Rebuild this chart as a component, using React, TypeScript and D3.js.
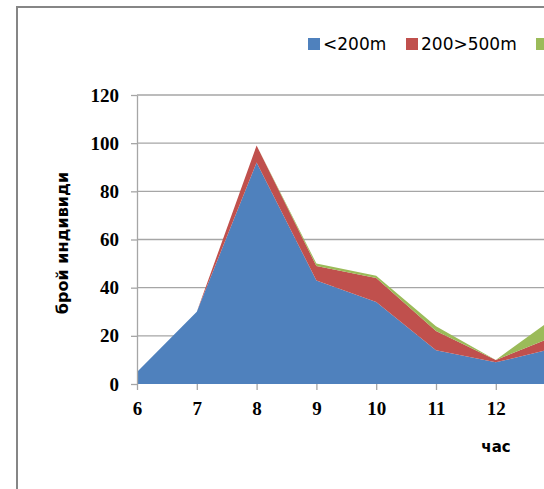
import React, { useEffect, useRef } from 'react';
import * as d3 from 'd3';

const hours = ['6', '7', '8', '9', '10', '11', '12', '13'];
const seriesNames = ['<200m', '200>500m', '>500m'];
const near = [5, 30, 92, 43, 34, 14, 9, 15];
const mid = [0, 0, 7, 6, 10, 8, 1, 5];
const far = [0, 0, 0, 1, 1, 2, 0, 8];
const yTicks = [0, 20, 40, 60, 80, 100, 120];
const xTickLabels = ['6', '7', '8', '9', '10', '11', '12'];
const COLORS = ['#4f81bd', '#c0504d', '#9bbb59'];

export default function App() {
  const svgRef = useRef<SVGSVGElement>(null);

  useEffect(() => {
    if (!svgRef.current) return;
    const svg = d3.select(svgRef.current);
    svg.selectAll('*').remove();

    const rows = hours.map((h, i) => ({ hour: h, s0: near[i], s1: mid[i], s2: far[i] }));
    const stacked = d3.stack<any>().keys(['s0', 's1', 's2'])(rows);

    const x = d3.scalePoint().domain(hours).range([137, 137 + 7 * 59.8]);
    const y = d3.scaleLinear().domain([0, 120]).range([384, 95]);
    const plotRight = 700;

    // chart frame
    svg.append('rect')
      .attr('x', 17).attr('y', 7)
      .attr('width', 800).attr('height', 600)
      .attr('fill', '#fff')
      .attr('stroke', '#868686')
      .attr('stroke-width', 2);

    // grid lines
    svg.append('g')
      .selectAll('line')
      .data(yTicks.filter(d => d > 0))
      .enter()
      .append('line')
      .attr('x1', x('6')!).attr('x2', plotRight)
      .attr('y1', d => y(d)).attr('y2', d => y(d))
      .attr('stroke', '#a6a6a6')
      .attr('stroke-width', 1.3);

    // areas
    const area = d3.area<any>()
      .x(d => x(d.data.hour)!)
      .y0(d => y(d[0]))
      .y1(d => y(d[1]));

    svg.append('g')
      .selectAll('path')
      .data(stacked)
      .enter()
      .append('path')
      .attr('d', d => area(d as any))
      .attr('fill', (d, i) => COLORS[i]);

    const tickFont = (sel: any) => sel
      .style('font-family', "'Liberation Serif', serif")
      .style('font-size', '19px')
      .style('font-weight', 'bold')
      .style('fill', '#000');

    // y axis
    const yAxis = svg.append('g')
      .attr('transform', `translate(${x('6')},0)`)
      .call(d3.axisLeft(y).tickValues(yTicks).tickSize(6).tickSizeOuter(0).tickPadding(12));
    yAxis.select('.domain').attr('stroke', '#a6a6a6').attr('stroke-width', 1.3);
    yAxis.selectAll('.tick line').attr('stroke', '#a6a6a6').attr('stroke-width', 1.3);
    tickFont(yAxis.selectAll('text'));

    // x axis
    const xAxis = svg.append('g')
      .attr('transform', `translate(0,${y(0)})`)
      .call(d3.axisBottom(x).tickValues(xTickLabels).tickSize(6).tickSizeOuter(0).tickPadding(12));
    xAxis.select('.domain').remove();
    xAxis.selectAll('.tick line').attr('stroke', '#a6a6a6').attr('stroke-width', 1.3);
    tickFont(xAxis.selectAll('text'));

    // axis titles
    svg.append('text')
      .attr('transform', `translate(68,243) rotate(-90)`)
      .attr('text-anchor', 'middle')
      .style('font-family', "'DejaVu Sans', sans-serif")
      .style('font-size', '16px')
      .style('font-weight', 'bold')
      .text('брой индивиди');

    svg.append('text')
      .attr('x', 496)
      .attr('y', 452)
      .attr('text-anchor', 'middle')
      .style('font-family', "'DejaVu Sans', sans-serif")
      .style('font-size', '15px')
      .style('font-weight', 'bold')
      .text('час');

    // legend (third label lies past the picture's right edge)
    const legendX = [308, 406, 536];
    const legend = svg.append('g');
    seriesNames.forEach((name, i) => {
      legend.append('rect')
        .attr('x', legendX[i]).attr('y', 38)
        .attr('width', 12).attr('height', 12)
        .attr('fill', COLORS[i]);
      if (i < 2) {
        legend.append('text')
          .attr('x', legendX[i] + 15)
          .attr('y', 50)
          .style('font-family', "'DejaVu Sans', sans-serif")
          .style('font-size', '17px')
          .style('fill', '#000')
          .text(name);
      }
    });
  }, []);

  return (
    <div style={{ position: 'absolute', left: 0, top: 0, width: 544, height: 489, overflow: 'hidden' }}>
      <svg ref={svgRef} width={544} height={489} />
    </div>
  );
}
